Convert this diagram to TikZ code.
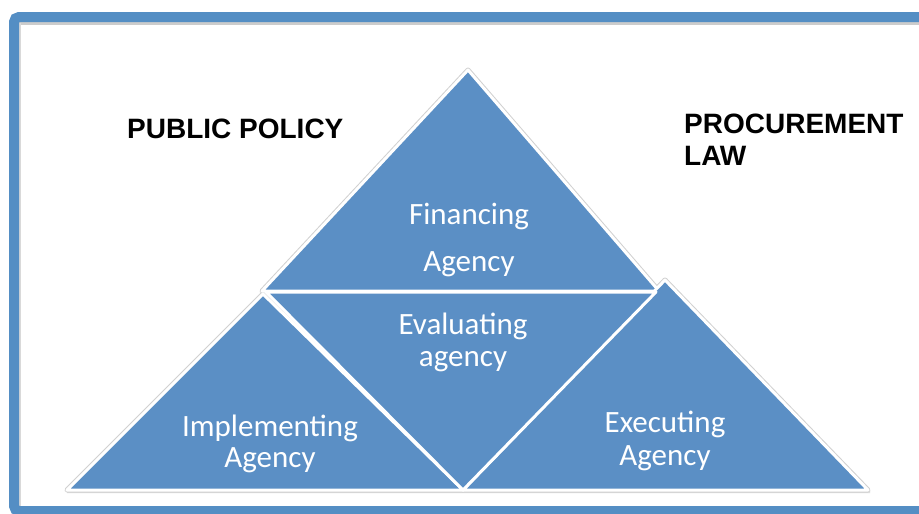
\documentclass[tikz,border=0pt]{standalone}
\usepackage{fontspec}
\setmainfont{Liberation Sans}
\newfontfamily\calib{Carlito}
\definecolor{tfill}{RGB}{91,143,197}
\definecolor{frameblue}{RGB}{84,142,196}
\tikzset{
  tri/.style={fill=tfill, draw=white, line width=3pt, line join=round},
  halo/.style={draw=black!18, line width=5pt, line join=round},
  shad/.style={fill=black!25, draw=none, opacity=0.5},
  lbl/.style={font=\calib\fontsize{31}{33}\selectfont, text=white, anchor=base, inner sep=0pt},
  head/.style={font=\bfseries\fontsize{28}{32}\selectfont, text=black, anchor=base west, inner sep=0pt, align=left},
}
\begin{document}
\begin{tikzpicture}[x=1pt,y=-1pt]
\useasboundingbox (0,0) rectangle (919,514);
\clip (0,0) rectangle (919,514);
\fill[white] (0,0) rectangle (919,514);
% frame
\draw[black!20, line width=3pt] (19,23) -- (930,23);
\draw[black!15, line width=2pt] (20,23) -- (20,506);
\draw[frameblue, line width=10pt, rounded corners=5pt] (14,17) rectangle (935,511);
% corner coordinates
\coordinate (apex) at (468,70);
\coordinate (tl) at (262,291);
\coordinate (tr) at (659,291);
\coordinate (la) at (263,294);
\coordinate (lb) at (67,490);
\coordinate (lc) at (463,490);
\coordinate (ma) at (266,292);
\coordinate (mb) at (656,292);
\coordinate (mc) at (463,490);
\coordinate (ra) at (665,280);
\coordinate (rb) at (463,490);
\coordinate (rc) at (868,490);
% shadows
\fill[shad] ([yshift=-3pt]lb) -- ([yshift=-3pt]lc) -- ([yshift=-3pt]rc) -- ([yshift=-3pt,xshift=2pt]rc) -- ([yshift=-1pt,xshift=2pt]rc) -- ([yshift=-1pt]lb) -- cycle;
% halos
\draw[halo] (apex) -- (tr) -- (tl) -- cycle;
\draw[halo] (la) -- (lc) -- (lb) -- cycle;
\draw[halo] (ra) -- (rc) -- (rb) -- cycle;
% triangles
\draw[tri] (apex) -- (tr) -- (tl) -- cycle;
\draw[tri] (la) -- (lc) -- (lb) -- cycle;
\draw[tri] (ra) -- (rc) -- (rb) -- cycle;
\draw[tri] (ma) -- (mb) -- (mc) -- cycle;
% labels
\node[lbl] (fin1) at (469,224) {Financing};
\node[lbl] (fin2) at (469,271) {Agency};
\node[lbl] (eva1) at (463,334) {Evaluating};
\node[lbl] (eva2) at (463,366) {agency};
\node[lbl] (imp1) at (270,436) {Implementing};
\node[lbl] (imp2) at (270,467) {Agency};
\node[lbl] (exe1) at (665,432) {Executing};
\node[lbl] (exe2) at (665,465) {Agency};
\node[head] (pp) at (127,138) {PUBLIC POLICY};
\node[head] (pl1) at (684,133) {PROCUREMENT};
\node[head] (pl2) at (684,165) {LAW};
\end{tikzpicture}
\end{document}
